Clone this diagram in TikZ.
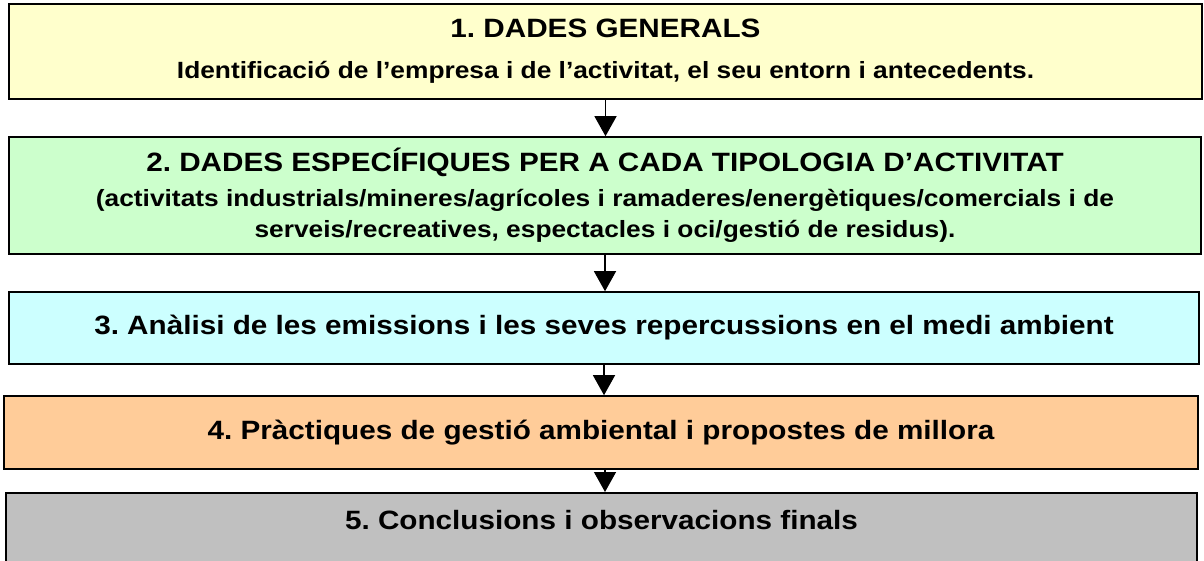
\documentclass[tikz,border=0pt]{standalone}
\usepackage{fontspec}
\setmainfont{Liberation Sans}[FakeStretch=1.12]
\usetikzlibrary{arrows.meta}
\usetikzlibrary{positioning}
\definecolor{groc}{HTML}{FFFFCC}
\definecolor{verd}{HTML}{CCFFCC}
\definecolor{blau}{HTML}{CCFFFF}
\definecolor{taronja}{HTML}{FFCC99}
\definecolor{gris}{HTML}{C0C0C0}
\tikzset{
  caixa/.style={draw=black, line width=1.6pt, align=center, inner sep=0pt,
    font=\fontsize{23.5}{31}\selectfont\bfseries},
  fletxa/.style={line width=1.3pt, -{Triangle[length=20pt,width=22pt]}},
}
\newcommand{\titol}[1]{{\fontsize{26.5}{30}\selectfont #1}}
\frenchspacing

\begin{document}
\begin{tikzpicture}[x=1pt,y=-1pt]
\useasboundingbox (0,0) rectangle (1204,561);

\node[caixa, fill=groc, minimum width=1193pt, minimum height=95pt,
      font=\fontsize{23.5}{41}\selectfont\bfseries] (dades) at (605.5,51.5)
  {\titol{1. DADES GENERALS}\\
   Identificació de l’empresa i de l’activitat, el seu entorn i antecedents.};

\node[caixa, fill=verd, minimum width=1192pt, minimum height=117pt] (tipus) at (605,195.5)
  {\titol{2. DADES ESPECÍFIQUES PER A CADA TIPOLOGIA D’ACTIVITAT}\\[4pt]
   (activitats industrials/mineres/agrícoles i ramaderes/energètiques/comercials i de\\
   serveis/recreatives, espectacles i oci/gestió de residus).};

\node[caixa, fill=blau, minimum width=1190pt, minimum height=72pt] (emissions) at (604,328)
  {\titol{3. Anàlisi de les emissions i les seves repercussions en el medi ambient}};

\node[caixa, fill=taronja, minimum width=1194pt, minimum height=73pt] (practiques) at (601,432.5)
  {\titol{4. Pràctiques de gestió ambiental i propostes de millora}};

\node[caixa, fill=gris, minimum width=1191pt, anchor=north, inner ysep=17pt,
      text depth=70pt] (conclusions) at (601.5,492)
  {\titol{5. Conclusions i observacions finals}};

% fletxes entre caixes
\draw[fletxa] (dades.south) -- (dades.south |- tipus.north);
\draw[fletxa] (tipus.south) -- (tipus.south |- emissions.north);
\draw[fletxa] (emissions.south) -- (emissions.south |- practiques.north);
\draw[fletxa] ([xshift=4pt]practiques.south) -- ([xshift=4pt]practiques.south |- conclusions.north);
\end{tikzpicture}
\end{document}
